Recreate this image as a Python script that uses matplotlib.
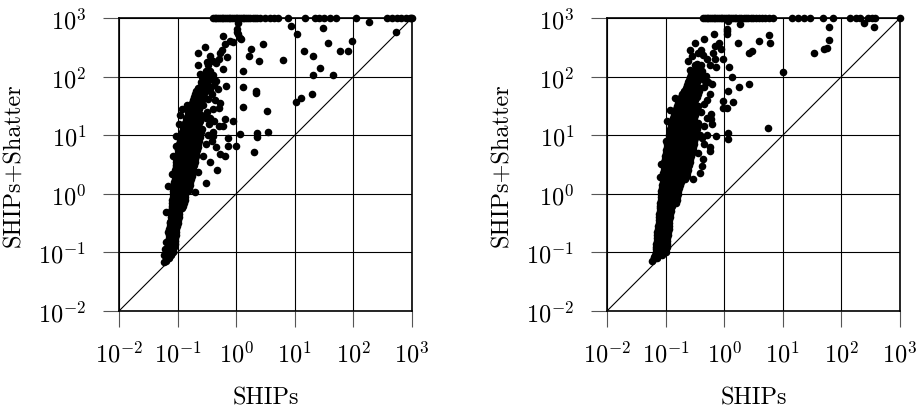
import numpy as np
import matplotlib
matplotlib.use("Agg")
import matplotlib.pyplot as plt

# Values in log10 units (decades)
# SHIPs on x, SHIPs+Shatter on y; 10^3 on y is the time-out row

# ---- left panel ----
left_top_ships = [-0.40, -0.37, -0.34, -0.31, -0.28, -0.25, -0.22, -0.19, -0.16, -0.13,
                  -0.10, -0.07, -0.04, -0.01, 0.02, 0.05, 0.08, 0.11, 0.14, 0.17,
                  0.20, 0.24, 0.28, 0.32, 0.36, 0.40, 0.49, 0.58, 0.65, 0.71,
                  0.88, 1.17, 1.34, 1.42, 1.50, 1.60, 1.71, 2.05, 2.57, 2.66,
                  2.74, 2.82, 2.90, 2.96, 2.99, 3.0]

left_scatter = [(0.03, 2.92), (0.01, 2.81), (0.03, 2.72), (0.06, 2.66),
                (0.94, 2.87), (1.03, 2.73), (1.48, 2.83), (2.27, 2.93), (2.72, 2.77),
                (1.57, 2.58), (1.98, 2.61), (1.77, 2.43), (1.90, 2.43), (1.15, 2.44),
                (1.31, 2.35), (1.43, 2.15), (1.31, 2.03), (1.66, 2.02), (0.80, 2.28),
                (0.45, 2.56), (0.26, 2.47), (0.21, 2.36), (0.39, 2.26), (0.12, 2.09),
                (0.09, 2.65), (0.01, 2.76), (0.11, 1.83), (0.33, 1.76), (0.33, 1.72),
                (0.11, 1.49), (0.52, 1.42), (1.30, 1.70), (1.10, 1.63), (1.02, 1.56),
                (0.07, 1.02), (0.35, 1.03), (0.35, 0.97), (0.55, 1.05), (0.00, 0.81),
                (0.31, 0.71), (-0.06, 1.25), (-0.19, 1.28), (-0.22, 1.16), (-0.29, 1.46),
                (-0.32, 0.40), (-0.51, 0.19), (-0.14, 0.95), (-0.14, 0.81), (-0.19, 0.65),
                (-0.28, 0.68), (-0.39, 0.99),
                (-0.66, 2.41), (-0.53, 2.50), (-0.66, 2.20), (-0.22, 2.70), (-0.19, 2.56),
                (-0.11, 2.61), (-0.05, 2.59), (-0.28, 2.41), (-0.16, 2.33), (-0.39, 2.27),
                (-0.34, 2.24), (-0.22, 2.13), (-0.45, 2.10), (-0.51, 2.05), (-0.59, 1.99),
                (-0.42, 1.96), (-0.34, 1.93), (-0.62, 1.82), (-0.45, 1.79), (-0.31, 1.79),
                (-0.18, 1.84), (-0.53, 1.73), (-0.69, 1.68), (-0.65, 1.53), (-0.56, 1.51),
                (-0.84, 1.51), (-0.93, 1.44), (-0.96, 1.35), (-0.76, 1.35), (-0.68, 1.39),
                (-0.59, 1.31), (-0.46, 1.19), (-0.97, 1.19), (-1.02, 0.99), (-0.85, 1.08),
                (-0.73, 1.11), (-0.62, 0.97), (-0.51, 0.85), (-1.02, 0.81), (-1.07, 0.65),
                (-0.90, 0.71), (-0.76, 0.77), (-0.56, 0.65), (-0.45, 0.54), (-1.10, 0.34),
                (-0.93, 0.43), (-0.79, 0.48), (-0.65, 0.37), (-1.16, 0.14), (-1.02, 0.20),
                (-0.85, 0.23), (-0.70, 0.03), (-1.07, -0.11), (-0.93, -0.05), (-0.82, 0.06),
                (-1.19, -0.31), (-1.05, -0.26), (-0.93, -0.20), (-1.13, -0.48), (-1.02, -0.45),
                (-1.16, -0.65), (-1.05, -0.60), (-1.19, -0.82), (-1.10, -0.77), (-1.22, -0.94),
                (-1.13, -0.91), (-1.24, -1.05), (-1.19, -1.14), (-1.23, -1.16),
                (-0.60, 1.60), (-0.55, 1.65), (-0.48, 1.62), (-0.42, 1.70), (-0.38, 1.85),
                (-0.50, 1.88), (-0.56, 1.92), (-0.62, 2.05), (-0.40, 2.02), (-0.30, 2.30),
                (-0.25, 2.45), (-0.44, 2.35), (-0.50, 2.25), (-0.36, 1.60), (-0.28, 1.55),
                (-0.40, 1.45), (-0.50, 1.40), (-0.52, 1.30), (-0.45, 1.30), (-0.38, 1.25),
                (-0.30, 1.15), (-0.40, 1.05), (-0.48, 1.00), (-0.42, 0.90), (-0.35, 0.80)]

# dense band: shatter decade -> ships decades
left_band = {
    -1.1: [-1.20, -1.15],
    -1.05: [-1.18, -1.12],
    -1.0: [-1.19, -1.13, -1.08],
    -0.95: [-1.18, -1.12, -1.07],
    -0.9: [-1.17, -1.11, -1.06],
    -0.85: [-1.16, -1.10, -1.05],
    -0.8: [-1.16, -1.10, -1.04],
    -0.75: [-1.15, -1.09, -1.04],
    -0.7: [-1.15, -1.09, -1.03],
    -0.65: [-1.14, -1.08, -1.02],
    -0.6: [-1.14, -1.08, -1.02],
    -0.55: [-1.13, -1.07, -1.01],
    -0.5: [-1.13, -1.07, -1.00],
    -0.45: [-1.12, -1.06, -0.99],
    -0.4: [-1.12, -1.05, -0.98],
    -0.35: [-1.11, -1.04, -0.97],
    -0.3: [-1.11, -1.04, -0.97],
    -0.25: [-1.10, -1.03, -0.96, -0.92],
    -0.2: [-1.10, -1.03, -0.96, -0.90],
    -0.15: [-1.09, -1.02, -0.95, -0.89],
    -0.1: [-1.09, -1.02, -0.95, -0.88],
    -0.05: [-1.08, -1.01, -0.94, -0.87],
    0.0: [-1.08, -1.01, -0.94, -0.87],
    0.05: [-1.07, -1.00, -0.93, -0.86, -0.82],
    0.1: [-1.07, -1.00, -0.93, -0.86, -0.80],
    0.15: [-1.06, -0.99, -0.92, -0.85, -0.79],
    0.2: [-1.06, -0.99, -0.92, -0.85, -0.78],
    0.25: [-1.05, -0.98, -0.91, -0.84, -0.77],
    0.3: [-1.05, -0.98, -0.91, -0.84, -0.76],
    0.35: [-1.04, -0.97, -0.90, -0.83, -0.75],
    0.4: [-1.04, -0.97, -0.90, -0.82, -0.74],
    0.45: [-1.03, -0.96, -0.89, -0.81, -0.73],
    0.5: [-1.03, -0.96, -0.88, -0.80, -0.72],
    0.55: [-1.02, -0.95, -0.87, -0.79, -0.71],
    0.6: [-1.02, -0.94, -0.86, -0.78, -0.70],
    0.65: [-1.01, -0.93, -0.85, -0.77, -0.69],
    0.7: [-1.00, -0.92, -0.84, -0.76, -0.68],
    0.75: [-0.99, -0.91, -0.83, -0.75, -0.67],
    0.8: [-0.98, -0.90, -0.82, -0.74, -0.66],
    0.85: [-0.97, -0.89, -0.81, -0.73, -0.65],
    0.9: [-0.96, -0.88, -0.80, -0.72, -0.64],
    0.95: [-0.95, -0.87, -0.79, -0.71, -0.63],
    1.0: [-0.94, -0.86, -0.78, -0.70, -0.62],
    1.05: [-0.92, -0.84, -0.76, -0.68, -0.60],
    1.1: [-0.90, -0.82, -0.74, -0.66, -0.58],
    1.15: [-0.89, -0.81, -0.73, -0.65],
    1.2: [-0.88, -0.80, -0.72, -0.64],
    1.25: [-0.86, -0.78, -0.70, -0.62],
    1.3: [-0.85, -0.77, -0.69, -0.61],
    1.35: [-0.83, -0.75, -0.67, -0.60],
    1.4: [-0.82, -0.74, -0.66],
    1.45: [-0.80, -0.72, -0.64],
    1.5: [-0.78, -0.70],
    1.55: [-0.76, -0.68, -0.62],
    1.6: [-0.74, -0.66, -0.58],
    1.65: [-0.72, -0.64],
    1.7: [-0.70, -0.62],
    1.75: [-0.68, -0.59],
    1.8: [-0.66, -0.56],
    1.9: [-0.60, -0.50],
    2.0: [-0.56, -0.46],
    2.1: [-0.52],
    2.2: [-0.48],
}

# ---- right panel ----
right_top_ships = [-0.36, -0.33, -0.30, -0.27, -0.24, -0.21, -0.18, -0.15, -0.12, -0.09,
                   -0.06, -0.03, 0.00, 0.03, 0.06, 0.09, 0.12, 0.15, 0.18, 0.21,
                   0.25, 0.29, 0.33, 0.37, 0.41, 0.45, 0.50, 0.55, 0.60, 0.65,
                   0.70, 0.76, 0.84, 1.16, 1.26, 1.36, 1.46, 1.69, 1.86, 2.15,
                   2.25, 2.32, 2.45, 2.52, 2.58, 3.0]

right_scatter = [(0.07, 2.95), (0.05, 2.81), (0.05, 2.73), (0.27, 2.89), (1.78, 2.85),
                 (2.38, 2.92), (2.55, 2.85), (0.76, 2.71), (0.79, 2.58), (0.60, 2.61),
                 (0.23, 2.58), (0.47, 2.44), (0.42, 2.41), (1.78, 2.62), (1.75, 2.48),
                 (1.71, 2.47), (1.53, 2.40), (1.01, 2.08), (0.75, 1.12), (0.42, 1.87),
                 (0.25, 1.82), (0.15, 1.56), (0.14, 1.99), (0.06, 1.76), (-0.02, 1.59),
                 (0.04, 1.47), (-0.02, 1.47), (0.06, 1.04), (0.06, 0.93), (-0.14, 0.99),
                 (-0.25, 0.73), (-0.38, 0.48), (-0.42, 0.36), (-0.53, 0.25), (-0.23, 1.27),
                 (-0.22, 1.36), (-0.20, 1.19), (0.09, 2.16), (-0.02, 2.30), (-0.14, 2.16),
                 (-0.16, 2.30), (-0.19, 2.41), (-0.16, 2.53), (-0.08, 2.58), (-0.05, 2.47),
                 (0.04, 2.78), (-0.18, 2.73), (-0.35, 2.65), (-0.49, 2.57), (-0.59, 2.46),
                 (-0.40, 2.46), (-0.36, 2.37), (-0.62, 2.27), (-0.46, 2.21), (-0.59, 2.12),
                 (-0.48, 2.07), (-0.38, 2.10), (-0.31, 2.01), (-0.20, 1.87), (-0.34, 1.82),
                 (-0.66, 1.78), (-0.49, 1.68), (-0.84, 1.64), (-0.75, 1.56), (-0.34, 1.53),
                 (-0.92, 1.43), (-0.97, 1.25), (-0.99, 0.90), (-0.34, 0.85), (-0.24, 0.80),
                 (-1.10, 0.28), (-1.08, 0.51), (-0.36, 0.60), (-1.24, -1.14), (-1.20, -1.08),
                 (-0.55, 2.35), (-0.45, 2.40), (-0.30, 2.30), (-0.25, 2.20), (-0.35, 1.95),
                 (-0.28, 1.90), (-0.25, 1.70), (-0.30, 1.60), (-0.40, 1.40), (-0.30, 1.30),
                 (-0.35, 1.15), (-0.30, 1.00), (-0.38, 0.95), (-0.45, 0.70)]

right_band = {
    -1.1: [-1.19, -1.14],
    -1.05: [-1.18, -1.12, -1.06],
    -1.0: [-1.17, -1.11, -1.05, -0.99],
    -0.95: [-1.17, -1.11, -1.05, -1.00],
    -0.9: [-1.16, -1.10, -1.04, -0.98],
    -0.85: [-1.16, -1.10, -1.04, -0.98],
    -0.8: [-1.15, -1.09, -1.03, -0.97],
    -0.75: [-1.15, -1.09, -1.03, -0.97],
    -0.7: [-1.14, -1.08, -1.02, -0.96],
    -0.65: [-1.14, -1.08, -1.02, -0.96],
    -0.6: [-1.13, -1.07, -1.01, -0.95],
    -0.55: [-1.13, -1.07, -1.01, -0.95],
    -0.5: [-1.12, -1.06, -1.00, -0.94],
    -0.45: [-1.12, -1.06, -1.00, -0.94],
    -0.4: [-1.11, -1.05, -0.99, -0.93],
    -0.35: [-1.11, -1.05, -0.99, -0.92],
    -0.3: [-1.10, -1.04, -0.98, -0.91],
    -0.25: [-1.10, -1.04, -0.97, -0.90],
    -0.2: [-1.09, -1.03, -0.96, -0.89],
    -0.15: [-1.09, -1.02, -0.95, -0.88, -0.83],
    -0.1: [-1.08, -1.01, -0.94, -0.87, -0.80],
    -0.05: [-1.08, -1.01, -0.94, -0.87, -0.80],
    0.0: [-1.07, -1.00, -0.93, -0.86, -0.79],
    0.05: [-1.07, -1.00, -0.93, -0.86, -0.78],
    0.1: [-1.06, -0.99, -0.92, -0.85, -0.77],
    0.15: [-1.06, -0.99, -0.91, -0.84, -0.76],
    0.2: [-1.05, -0.98, -0.90, -0.82, -0.74],
    0.25: [-1.05, -0.97, -0.89, -0.81, -0.73, -0.67],
    0.3: [-1.04, -0.96, -0.88, -0.80, -0.72, -0.64],
    0.35: [-1.04, -0.96, -0.88, -0.80, -0.71, -0.63],
    0.4: [-1.03, -0.95, -0.87, -0.79, -0.70, -0.62],
    0.45: [-1.03, -0.95, -0.86, -0.78, -0.69, -0.61],
    0.5: [-1.02, -0.94, -0.85, -0.77, -0.68, -0.60],
    0.55: [-1.02, -0.93, -0.85, -0.76, -0.67, -0.59],
    0.6: [-1.01, -0.92, -0.84, -0.75, -0.66, -0.58],
    0.65: [-1.01, -0.92, -0.83, -0.74, -0.65, -0.57],
    0.7: [-1.00, -0.91, -0.82, -0.73, -0.64, -0.55],
    0.75: [-0.99, -0.90, -0.81, -0.72, -0.63, -0.54],
    0.8: [-0.98, -0.89, -0.80, -0.71, -0.62, -0.53],
    0.85: [-0.97, -0.88, -0.79, -0.70, -0.61, -0.52],
    0.9: [-0.96, -0.87, -0.78, -0.69, -0.60, -0.51],
    0.95: [-0.95, -0.86, -0.77, -0.68, -0.59, -0.50],
    1.0: [-0.94, -0.85, -0.76, -0.67, -0.58, -0.49, -0.42],
    1.05: [-0.93, -0.84, -0.75, -0.66, -0.57, -0.48],
    1.1: [-0.92, -0.83, -0.74, -0.65, -0.56, -0.47],
    1.15: [-0.91, -0.82, -0.73, -0.64, -0.55, -0.46],
    1.2: [-0.90, -0.81, -0.72, -0.63, -0.54, -0.45],
    1.25: [-0.88, -0.79, -0.70, -0.61, -0.52],
    1.3: [-0.87, -0.78, -0.69, -0.60, -0.51],
    1.35: [-0.85, -0.76, -0.67, -0.58, -0.49],
    1.4: [-0.84, -0.75, -0.66, -0.57, -0.48],
    1.45: [-0.82, -0.73, -0.64, -0.55, -0.46],
    1.5: [-0.80, -0.71, -0.62, -0.53, -0.44],
    1.55: [-0.78, -0.69, -0.60, -0.51],
    1.6: [-0.76, -0.67, -0.58, -0.49],
    1.65: [-0.74, -0.65, -0.56, -0.47],
    1.7: [-0.72, -0.63, -0.54, -0.45],
    1.75: [-0.69, -0.60, -0.51, -0.43],
    1.8: [-0.66, -0.58, -0.50, -0.42],
    1.85: [-0.64, -0.56, -0.48],
    1.9: [-0.62, -0.54, -0.46],
    1.95: [-0.60, -0.52, -0.44],
    2.0: [-0.58, -0.50, -0.42],
    2.05: [-0.56, -0.47],
    2.1: [-0.54, -0.44],
    2.2: [-0.50, -0.40],
}

timeout_decade = 3.0
decades = [-2, -1, 0, 1, 2, 3]
x_label = "SHIPs"
y_label = "SHIPs+Shatter"


def collect(top, scatter, band):
    xs = list(top)
    ys = [timeout_decade] * len(top)
    for px, py in scatter:
        xs.append(px)
        ys.append(py)
    for py, row in band.items():
        for px in row:
            xs.append(px)
            ys.append(py)
    return 10.0 ** np.array(xs), 10.0 ** np.array(ys)


plt.rcParams["font.family"] = "serif"
plt.rcParams["font.serif"] = ["cmr10", "DejaVu Serif"]
plt.rcParams["mathtext.fontset"] = "cm"
plt.rcParams["axes.formatter.use_mathtext"] = True
plt.rcParams["axes.unicode_minus"] = False

fig = plt.figure(figsize=(9.23, 4.10), dpi=100)
ax_left = fig.add_axes([0.1289, 0.239, 0.3175, 0.7146])
ax_right = fig.add_axes([0.6576, 0.239, 0.3175, 0.7146])

panels = [(ax_left, left_top_ships, left_scatter, left_band),
          (ax_right, right_top_ships, right_scatter, right_band)]

lims = [10.0 ** decades[0], 10.0 ** decades[-1]]
for ax, top, scat, band in panels:
    xs, ys = collect(top, scat, band)
    ax.set_xscale("log")
    ax.set_yscale("log")
    ax.set_xlim(lims)
    ax.set_ylim(lims)
    ticks = [10.0 ** d for d in decades]
    ax.set_xticks(ticks)
    ax.set_yticks(ticks)
    ax.minorticks_off()
    ax.grid(True, color="black", linewidth=0.8)
    ax.set_axisbelow(True)
    ax.plot(lims, lims, color="black", linewidth=0.8, zorder=2)
    ax.scatter(xs, ys, s=30, color="black", linewidths=0, zorder=3, clip_on=False)
    for sp in ax.spines.values():
        sp.set_linewidth(1.2)
    ax.tick_params(direction="out", length=11.5, width=0.8, color="#555555",
                   labelsize=17.5)
    ax.tick_params(axis="y", pad=12)
    ax.tick_params(axis="x", pad=10)
    ax.set_xlabel(x_label, fontsize=17.5, labelpad=14)
    ax.set_ylabel(y_label, fontsize=17.5, labelpad=10)

fig.savefig("out.png", dpi=100)
